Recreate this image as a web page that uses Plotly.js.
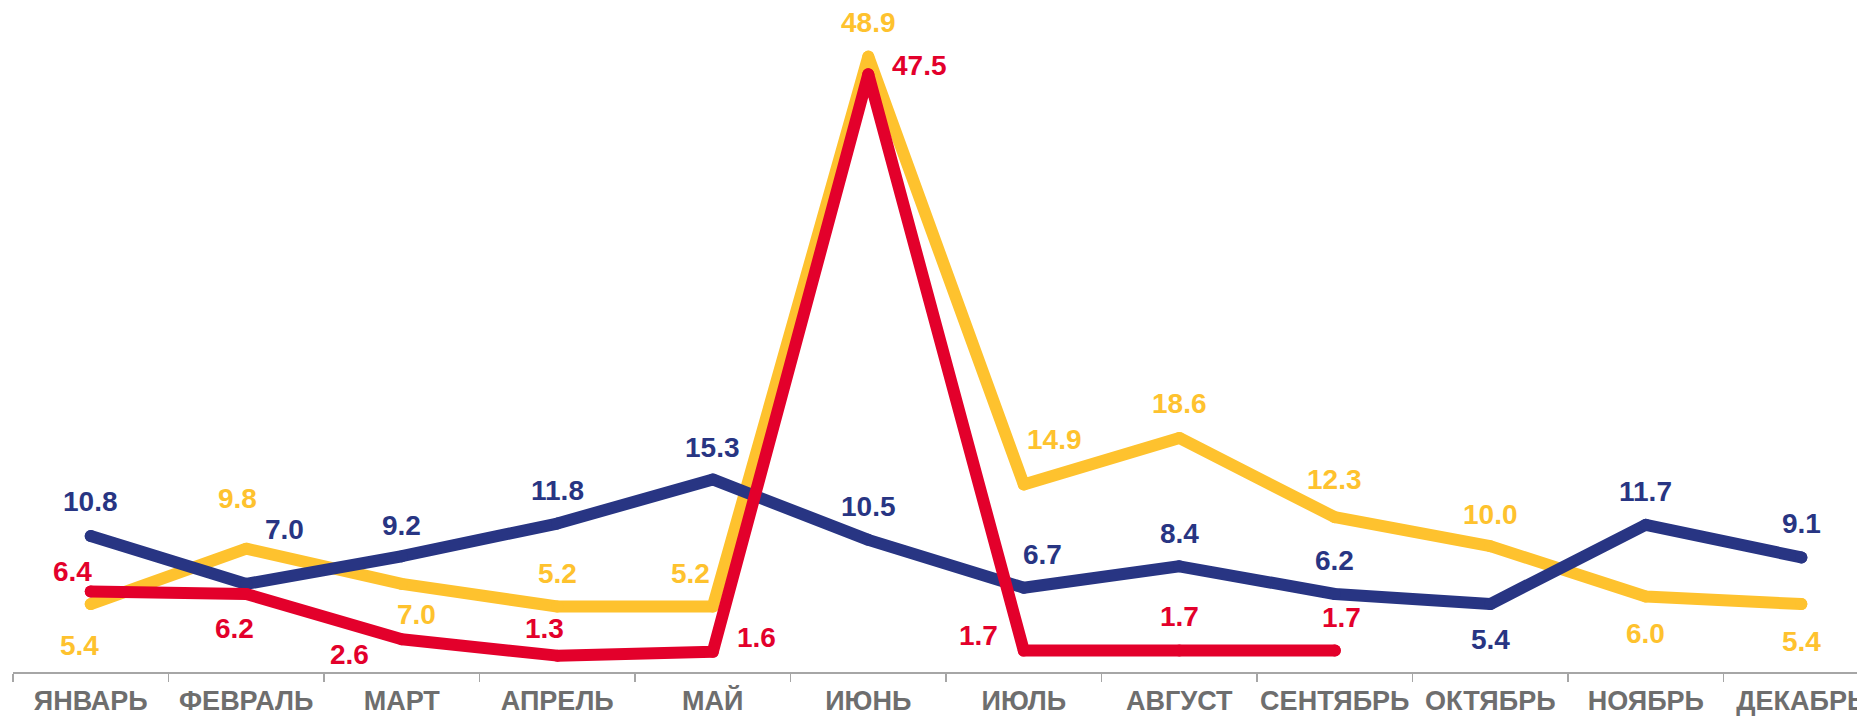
<!DOCTYPE html>
<html>
<head>
<meta charset="utf-8">
<script src="https://cdn.plot.ly/plotly-3.0.1.min.js"></script>
<style>
  html, body { margin: 0; padding: 0; background: #ffffff; overflow: hidden; }
  #chart { width: 1857px; height: 718px; }
  path.js-line { stroke-linejoin: round !important; stroke-linecap: round !important; }
</style>
</head>
<body>
<div id="chart"></div>
<script>
// ---- data ----
const months = ["ЯНВАРЬ", "ФЕВРАЛЬ", "МАРТ", "АПРЕЛЬ", "МАЙ", "ИЮНЬ", "ИЮЛЬ", "АВГУСТ", "СЕНТЯБРЬ", "ОКТЯБРЬ", "НОЯБРЬ", "ДЕКАБРЬ"];
const seriesYellow = [5.4, 9.8, 7.0, 5.2, 5.2, 48.9, 14.9, 18.6, 12.3, 10.0, 6.0, 5.4];
const seriesBlue   = [10.8, 7.0, 9.2, 11.8, 15.3, 10.5, 6.7, 8.4, 6.2, 5.4, 11.7, 9.1];
const seriesRed    = [6.4, 6.2, 2.6, 1.3, 1.6, 47.5, 1.7, 1.7, 1.7, null, null, null];

// ---- label placement (pixel offsets from each point: [dx, dy up]) ----
const offYellow = [[-11,-41],[-9,50],[15,-31],[0,33],[-22,33],[0,34],[31,45],[0,34],[0,38],[0,32],[0,-37],[0,-37]];
const offBlue   = [[0,35],[38,54],[0,31],[0,33],[0,32],[0,33],[19,33],[0,33],[0,33],[0,-35],[0,33],[0,34]];
const offRed    = [[-18,20],[-12,-35],[-52,-15],[-13,27],[44,14],[51,9],[-45,15],[0,34],[7,33]];

const colYellow = "#FEC22E";
const colBlue = "#283583";
const colRed = "#E3002B";
const LW = 12;
const FONT = "Liberation Sans, Arial, sans-serif";

function trace(vals, color) {
  return {
    type: "scatter",
    mode: "lines+markers",
    x: months,
    y: vals,
    line: { color: color, width: LW },
    marker: { color: color, size: LW, line: { width: 0 } },
    hoverinfo: "skip",
    cliponaxis: false,
    showlegend: false
  };
}

function labels(vals, offs, color) {
  const out = [];
  vals.forEach((v, i) => {
    if (v === null || v === undefined) return;
    out.push({
      x: i, y: v, xref: "x", yref: "y",
      text: v.toFixed(1),
      showarrow: false,
      xshift: offs[i][0], yshift: offs[i][1],
      xanchor: "center", yanchor: "middle",
      font: { family: FONT, size: 28, color: color, weight: "bold" }
    });
  });
  return out;
}

const data = [
  trace(seriesYellow, colYellow),
  trace(seriesBlue, colBlue),
  trace(seriesRed, colRed)
];

const annotations = [].concat(
  labels(seriesYellow, offYellow, colYellow),
  labels(seriesBlue, offBlue, colBlue),
  labels(seriesRed, offRed, colRed)
);

const layout = {
  width: 1857,
  height: 718,
  margin: { l: 13, r: 0, t: 0, b: 46, pad: 0 },
  paper_bgcolor: "#ffffff",
  plot_bgcolor: "#ffffff",
  showlegend: false,
  xaxis: {
    type: "category",
    categoryorder: "array",
    categoryarray: months,
    range: [-0.5, 11.358],
    showgrid: false,
    zeroline: false,
    showline: true,
    linecolor: "#a6a6a6",
    linewidth: 2,
    ticks: "outside",
    tickson: "boundaries",
    ticklen: 8,
    tickwidth: 1.5,
    tickcolor: "#a6a6a6",
    tickangle: 0,
    ticklabelstandoff: 4,
    automargin: false,
    tickfont: { family: FONT, size: 27, color: "#6e6e6e", weight: "bold" },
    fixedrange: true
  },
  yaxis: {
    range: [0, 53.4],
    visible: false,
    showgrid: false,
    zeroline: false,
    fixedrange: true
  },
  annotations: annotations
};

Plotly.newPlot("chart", data, layout, { displayModeBar: false, staticPlot: true });
</script>
</body>
</html>
